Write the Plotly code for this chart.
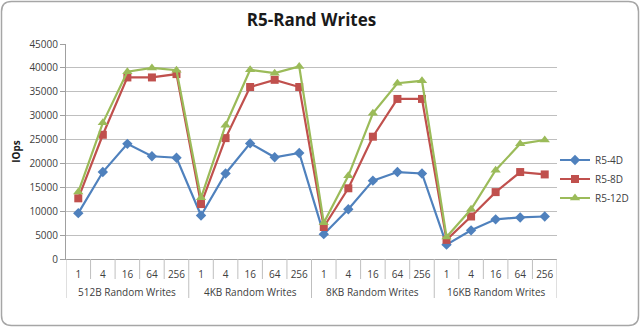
import plotly.graph_objects as go

# Queue depths tested within each block-size group
depths = ["1", "4", "16", "64", "256"]
groups = ["512B Random Writes", "4KB Random Writes", "8KB Random Writes", "16KB Random Writes"]

# IOps per configuration, ordered group by group, depth by depth
r5_4d = [9600, 18200, 24100, 21500, 21200,
         9100, 17900, 24200, 21300, 22200,
         5200, 10400, 16400, 18200, 17900,
         3000, 6000, 8300, 8700, 8900]
r5_8d = [12700, 26000, 38000, 38000, 38700,
         11500, 25300, 36000, 37500, 36000,
         6700, 14800, 25600, 33500, 33500,
         4000, 8900, 14000, 18200, 17700]
r5_12d = [14000, 28500, 39200, 40000, 39500,
          12800, 28000, 39600, 38900, 40300,
          7600, 17400, 30500, 36800, 37300,
          4600, 10400, 18600, 24100, 24900]

n_d = len(depths)
pos = list(range(len(groups) * n_d))
tick_text = [d for _ in groups for d in depths]

W, H = 640, 327
L, R, T, B = 66, 83, 44, 68
PH = H - T - B

series = [
    ("R5-4D", r5_4d, "#4F81BD", "diamond", 8),
    ("R5-8D", r5_8d, "#C0504D", "square", 8),
    ("R5-12D", r5_12d, "#9BBB59", "triangle-up", 9),
]

fig = go.Figure()
for name, vals, color, sym, size in series:
    fig.add_trace(go.Scatter(
        x=pos, y=vals, name=name, mode="lines+markers",
        line=dict(color=color, width=2.2),
        marker=dict(symbol=sym, size=size, color=color),
    ))

def px_to_paper(x, y):
    return (x - L) / (W - L - R), (H - B - y) / PH

# rounded chart frame
x0, y0, x1, y1, r = 1.5, 1.5, 638.5, 325.5, 10
pts = [("M", x0 + r, y0), ("L", x1 - r, y0), ("Q", x1, y0, x1, y0 + r),
       ("L", x1, y1 - r), ("Q", x1, y1, x1 - r, y1), ("L", x0 + r, y1),
       ("Q", x0, y1, x0, y1 - r), ("L", x0, y0 + r), ("Q", x0, y0, x0 + r, y0)]
path = ""
for p in pts:
    coords = p[1:]
    parts = []
    for i in range(0, len(coords), 2):
        px, py = px_to_paper(coords[i], coords[i + 1])
        parts.append(f"{px:.5f},{py:.5f}")
    path += p[0] + " ".join(parts) + " "
path += "Z"
fig.add_shape(type="path", path=path, xref="paper", yref="paper",
              line=dict(color="#A6A6A6", width=1.5), layer="below")

# category separators below the axis: short between depths, long between groups
inner_drop = -20 / PH
group_drop = -39 / PH
for k in range(len(pos) + 1):
    xb = k - 0.5
    drop = group_drop if k % n_d == 0 else inner_drop
    fig.add_shape(type="line", xref="x", yref="paper", x0=xb, x1=xb, y0=0, y1=drop,
                  line=dict(color="#BFBFBF", width=1))

# group labels under the depth labels
for gi, g in enumerate(groups):
    fig.add_annotation(x=gi * n_d + (n_d - 1) / 2, xref="x", y=-33 / PH, yref="paper",
                       text=g, showarrow=False, yanchor="middle",
                       font=dict(size=10, color="#404040"))

fig.update_layout(
    width=W, height=H,
    margin=dict(l=L, r=R, t=T, b=B, autoexpand=False),
    paper_bgcolor="white", plot_bgcolor="white",
    font=dict(family="Open Sans, Liberation Sans, sans-serif", size=10, color="#404040"),
    title=dict(text="<b>R5-Rand Writes</b>", x=0.5, xref="paper", xanchor="center",
               y=1 - 20 / H, yanchor="middle",
               font=dict(size=17, color="#1a1a1a", family="Open Sans, sans-serif")),
    showlegend=True,
    legend=dict(xref="container", yref="container", x=555 / W, xanchor="left",
                y=1 - 179 / H, yanchor="middle", itemwidth=30,
                font=dict(size=10, color="#404040"), tracegroupgap=0,
                bgcolor="rgba(0,0,0,0)"),
)

fig.update_yaxes(
    range=[0, 45000], dtick=5000, tickformat="d",
    showgrid=True, gridcolor="#BFBFBF", gridwidth=1,
    showline=True, linecolor="#A0A0A0", linewidth=1,
    ticks="outside", ticklen=5, tickcolor="#A0A0A0",
    tickfont=dict(size=10, color="#404040"),
    title=dict(text="<b>IOps</b>", font=dict(size=10, color="#1a1a1a"), standoff=6),
    zeroline=False,
)
fig.update_xaxes(
    range=[-0.5, len(pos) - 0.5],
    tickmode="array", tickvals=pos, ticktext=tick_text, tickangle=0,
    ticks="", ticklabelstandoff=6,
    showline=True, linecolor="#A0A0A0", linewidth=1,
    tickfont=dict(size=10, color="#404040"),
    showgrid=False, zeroline=False,
)

fig.write_html("out.html")
